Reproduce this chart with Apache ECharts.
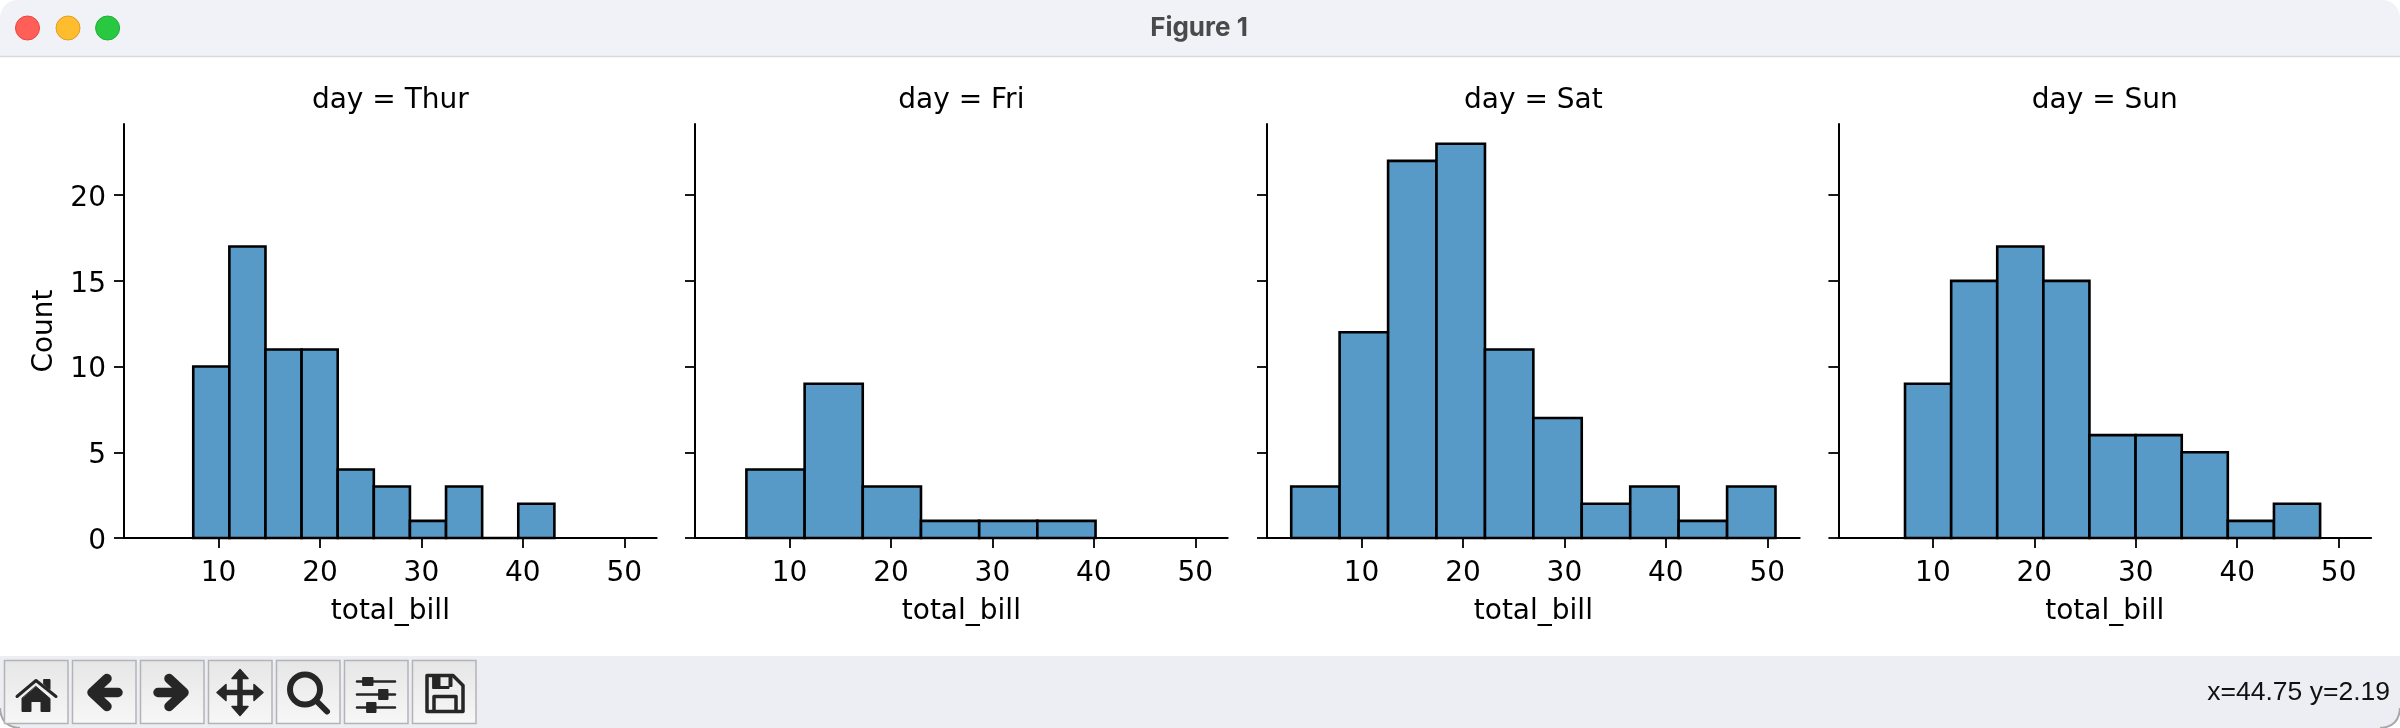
<!DOCTYPE html>
<html>
<head>
<meta charset="utf-8">
<title>Figure 1</title>
<style>
html, body { margin: 0; padding: 0; background: #fff; }
#main { width: 2400px; height: 728px; }
</style>
<script src="https://cdn.jsdelivr.net/npm/echarts@6/dist/echarts.min.js"></script>
</head>
<body>
<div id="main"></div>
<script>
// 数据
var days = ['Thur', 'Fri', 'Sat', 'Sun'];
var thurEdges = [7.51, 11.07, 14.63, 18.19, 21.75, 25.31, 28.87, 32.43, 35.99, 39.55, 43.11];
var thurCounts = [10, 17, 11, 11, 4, 3, 1, 3, 0, 2];
var friEdges = [5.75, 11.49, 17.22, 22.96, 28.70, 34.43, 40.17];
var friCounts = [4, 9, 3, 1, 1, 1];
var satEdges = [3.07, 7.84, 12.62, 17.39, 22.17, 26.94, 31.71, 36.49, 41.26, 46.04, 50.81];
var satCounts = [3, 12, 22, 23, 11, 7, 2, 3, 1, 3];
var sunEdges = [7.25, 11.80, 16.34, 20.89, 25.43, 29.98, 34.53, 39.07, 43.62, 48.17];
var sunCounts = [9, 15, 17, 15, 6, 6, 5, 1, 2];
var xTicks = [10, 20, 30, 40, 50];
var yTicks = [0, 5, 10, 15, 20];

var allEdges = [thurEdges, friEdges, satEdges, sunEdges];
var allCounts = [thurCounts, friCounts, satCounts, sunCounts];

var font = 'DejaVu Sans';
var gridLeft = [124, 695, 1267, 1838.4];
var gridWidth = 532.7;
var gridTop = 124;
var gridHeight = 414;

function binRows(edges, counts) {
	var rows = [];
	for (var i = 0; i < counts.length; i++) {
		rows.push([edges[i], edges[i + 1], counts[i]]);
	}
	return rows;
}

// 直方图柱子
function renderBin(params, api) {
	var a = api.coord([api.value(0), api.value(2)]);
	var b = api.coord([api.value(1), 0]);
	return {
		type: 'rect',
		shape: { x: a[0], y: a[1], width: b[0] - a[0], height: b[1] - a[1] },
		style: { fill: '#5799c7', stroke: '#000', lineWidth: 2.6 }
	};
}

var grids = [], xAxes = [], yAxes = [], series = [], titles = [];
days.forEach(function (day, i) {
	grids.push({ left: gridLeft[i], top: gridTop, width: gridWidth, height: gridHeight });
	titles.push({
		text: 'day = ' + day,
		left: gridLeft[i] + gridWidth / 2,
		top: 87,
		padding: 0,
		textAlign: 'center',
		textStyle: { fontFamily: font, fontSize: 28, fontWeight: 'normal', color: '#000' }
	});
	xAxes.push({
		type: 'value', gridIndex: i, z: 5,
		min: 0.683, max: 53.197,
		name: 'total_bill', nameLocation: 'middle', nameGap: 60,
		nameTextStyle: { fontFamily: font, fontSize: 28, color: '#000' },
		axisLine: { onZero: false, lineStyle: { color: '#000', width: 2 } },
		axisTick: { show: true, length: 10, customValues: xTicks, lineStyle: { color: '#000', width: 1.8 } },
		axisLabel: { customValues: xTicks, margin: 22, fontFamily: font, fontSize: 28, color: '#000' },
		splitLine: { show: false }
	});
	yAxes.push({
		type: 'value', gridIndex: i, z: 5,
		min: 0, max: 24.15,
		name: i === 0 ? 'Count' : '', nameLocation: 'middle', nameGap: 65, nameRotate: 90,
		nameTextStyle: { fontFamily: font, fontSize: 28, color: '#000' },
		axisLine: { show: true, lineStyle: { color: '#000', width: 2 } },
		axisTick: { show: true, length: 10, customValues: yTicks, lineStyle: { color: '#000', width: 1.8 } },
		axisLabel: {
			show: i === 0, customValues: yTicks, margin: 18,
			formatter: '{t|{value}}',
			rich: { t: { padding: [7, 0, 0, 0], fontFamily: font, fontSize: 28, color: '#000' } }
		},
		splitLine: { show: false }
	});
	series.push({
		type: 'custom', xAxisIndex: i, yAxisIndex: i, clip: false,
		renderItem: renderBin,
		encode: { x: [0, 1], y: 2 },
		data: binRows(allEdges[i], allCounts[i])
	});
});

// 窗口外框和工具栏
var ink = '#262626';
var shapeNo = 0;
function svgShape(pathData) {
	var name = 'svgPath' + (shapeNo++);
	echarts.graphic.registerShape(name, echarts.graphic.extendPath(pathData, {}));
	return name;
}
function icon(cx, pathData, fill, stroke, lineWidth) {
	return {
		type: svgShape(pathData), x: cx, y: 691.5, z: 20,
		style: { fill: fill, stroke: stroke, lineWidth: lineWidth || 0, lineCap: 'round', lineJoin: 'round' }
	};
}
function button(x0, x1) {
	return {
		type: 'rect', z: 15,
		shape: { x: x0 + 0.5, y: 660.5, width: x1 - x0, height: 63 },
		style: {
			fill: new echarts.graphic.LinearGradient(0, 0, 0, 1, [
				{ offset: 0, color: '#e6e6e7' }, { offset: 1, color: '#f7f7f8' }
			]),
			stroke: '#b4b4b6', lineWidth: 1.5
		}
	};
}
var btnX = [[4, 67.5], [72, 135.5], [140, 203.5], [208, 271.5], [276, 339.5], [344, 407.5], [412, 475.5]];
var chrome = [
	{ type: 'rect', z: 10, shape: { x: 0, y: 0, width: 2400, height: 56, r: [18, 18, 0, 0] }, style: { fill: '#f1f2f7' } },
	{ type: 'line', z: 11, shape: { x1: 0, y1: 56.5, x2: 2400, y2: 56.5 }, style: { stroke: '#d9d9dc', lineWidth: 1.5 } },
	{ type: 'circle', z: 12, shape: { cx: 27.5, cy: 28, r: 12 }, style: { fill: '#ff5f57', stroke: '#e5483f', lineWidth: 1 } },
	{ type: 'circle', z: 12, shape: { cx: 68, cy: 28, r: 12 }, style: { fill: '#febc2e', stroke: '#dfa023', lineWidth: 1 } },
	{ type: 'circle', z: 12, shape: { cx: 107.6, cy: 28, r: 12 }, style: { fill: '#28c840', stroke: '#1fae33', lineWidth: 1 } },
	{ type: 'text', z: 12, x: 1199, y: 28, style: { text: 'Figure 1', font: 'bold 26px Inter', fill: '#4a4a4c', align: 'center', verticalAlign: 'middle' } },
	{ type: 'rect', z: 10, shape: { x: 0, y: 656, width: 2400, height: 72, r: [0, 0, 18, 18] }, style: { fill: '#eceef3' } },
	{ type: svgShape('M0,708 Q1,727 20,728'), z: 11, style: { fill: 'none', stroke: '#a8a8a8', lineWidth: 2 } },
	{ type: svgShape('M2400,708 Q2399,727 2380,728'), z: 11, style: { fill: 'none', stroke: '#a8a8a8', lineWidth: 2 } },
	{ type: 'text', z: 12, x: 2390, y: 693, style: { text: 'x=44.75 y=2.19', font: '26.5px "Liberation Sans"', fill: '#111', align: 'right', verticalAlign: 'middle' } }
];
btnX.forEach(function (b) { chrome.push(button(b[0], b[1])); });
// 主页
chrome.push(icon(36, 'M-19,5 L0,-11 L20,5', 'none', ink, 3));
chrome.push(icon(36, 'M8,-12 L14,-12 L14,-2 L8,-7 Z M0,-5 L14,7 L14,20 L5,20 L5,10 L-5,10 L-5,20 L-14,20 L-14,7 Z', ink, ink, 1));
// 后退、前进
chrome.push(icon(104, 'M3,-13 L-12,1 L3,15 M-12,1 L14,1', 'none', ink, 9.5));
chrome.push(icon(172, 'M-3,-13 L12,1 L-3,15 M12,1 L-14,1', 'none', ink, 9.5));
// 移动
chrome.push(icon(240, 'M0,-16 L0,18 M-17,1 L17,1', 'none', ink, 5.5));
chrome.push(icon(240, 'M0,-22 L8,-13 L-8,-13 Z M0,24 L8,15 L-8,15 Z M-23,1 L-14,-7 L-14,9 Z M23,1 L14,-7 L14,9 Z', ink, ink, 1.5));
// 放大镜
chrome.push(icon(308, 'M12,-2 A15,15 0 1 1 -18,-2 A15,15 0 1 1 12,-2 M9,10 L19,20', 'none', ink, 6));
// 设置
chrome.push(icon(376, 'M-19,-10 L19,-10 M-19,3 L19,3 M-19,16 L19,16', 'none', ink, 2.6));
chrome.push(icon(376, 'M-13,-14 L-3,-14 L-3,-6 L-13,-6 Z M3,-2 L12,-2 L12,8 L3,8 Z M-9,11 L0,11 L0,21 L-9,21 Z', ink, ink, 1));
// 保存
chrome.push(icon(444, 'M-17,-16 L9,-16 L19,-6 L19,20 L-17,20 Z M-10,20 L-10,5 L12,5 L12,20', 'none', ink, 3.5));
chrome.push(icon(444, 'M-11,-16 L-4,-16 L-4,-3 L-11,-3 Z M-4,-5 L8,-5 L8,-16 L5,-16 L5,-3 L-4,-3 Z', ink, ink, 1));

var myChart = echarts.init(document.getElementById('main'), null, { renderer: 'canvas' });
myChart.setOption({
	animation: false,
	backgroundColor: '#fff',
	title: titles,
	grid: grids,
	xAxis: xAxes,
	yAxis: yAxes,
	series: series,
	graphic: { elements: chrome }
});
</script>
</body>
</html>
